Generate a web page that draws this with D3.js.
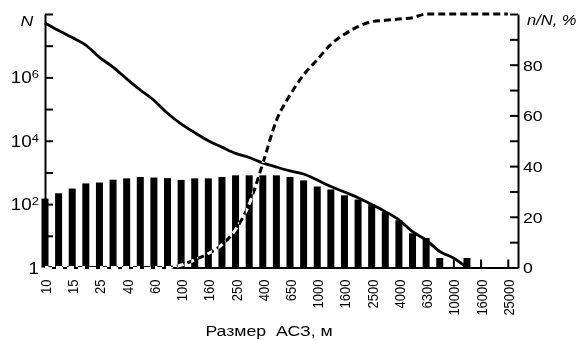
<!DOCTYPE html>
<html>
<head>
<meta charset="utf-8">
<script src="https://cdn.jsdelivr.net/npm/d3@7"></script>
<style>
    body { margin: 0; background: #fff; }
    svg { display: block; font-family: Arial, "Liberation Sans", sans-serif; }
</style>
</head>
<body>
<div id="chart"></div>
<script>
// size classes (labels sit on every second bar position)
const sizeLabels = ["10", "15", "25", "40", "60", "100", "160", "250", "400", "650",
    "1000", "1600", "2500", "4000", "6300", "10000", "16000", "25000"];

// number of objects per bin, one bar per half step
const barCounts = [150, 220, 310, 450, 480, 590, 650, 720, 690, 660,
    580, 650, 650, 720, 810, 810, 810, 810, 720, 560,
    360, 290, 190, 140, 98, 56, 31, 12, 8.5, 2, 0, 2];

// cumulative number N of objects larger than the size
const totalCounts = [5.2e7, 3.0e7, 1.8e7, 1.05e7, 4.3e6, 2.1e6, 9e5, 4e5, 1.9e5, 7.4e4,
    3.4e4, 1.8e4, 1e4, 6300, 4000, 2950, 2000, 1480, 1120, 890,
    575, 360, 240, 160, 98, 58, 32, 13.5, 7.4, 3.2, 2, 1];

// n/N, %
const sharePercent = [0, 0, 0, 0, 0, 0, 0, 0, 0, 0,
    1, 3, 5.5, 9, 15, 25, 41, 58, 68, 76,
    82, 88, 92, 95, 97, 97.5, 98, 98.5, 100, 100,
    100, 100, 100, 100, 100];

const width = 584, height = 340;
const plot = {left: 45, right: 518, top: 14, bottom: 267.5};
const stretch = 1.18; // lettering in the original is wider than Arial

const svg = d3.select("#chart").append("svg")
    .attr("width", width)
    .attr("height", height);

svg.append("rect")
    .attr("width", width)
    .attr("height", height)
    .attr("fill", "#fff");

// Scales
const x = d3.scaleLinear().domain([0, 34.75]).range([plot.left, plot.right]);
const y = d3.scaleLog().domain([1, 1e8]).range([plot.bottom, plot.top]);
const yPct = d3.scaleLinear().domain([0, 100]).range([plot.bottom, plot.top]);

// Bars
svg.append("g")
    .selectAll("rect")
    .data(barCounts.map((v, i) => ({i: i, v: v})).filter(d => d.v > 0))
    .join("rect")
    .attr("x", d => x(d.i) - 3.5)
    .attr("width", 7)
    .attr("y", d => y(d.v))
    .attr("height", d => y(1) - y(d.v))
    .attr("fill", "#000");

// Axes
function styleAxis(g) {
    g.selectAll("path.domain").attr("stroke", "#000").attr("stroke-width", 2);
    g.selectAll(".tick line").attr("stroke", "#000").attr("stroke-width", 2);
}

const xAxis = d3.axisBottom(x)
    .tickValues(sizeLabels.map((d, i) => i * 2))
    .tickFormat(d => sizeLabels[d / 2])
    .tickSize(-8)
    .tickSizeOuter(0);

const xAxisG = svg.append("g")
    .attr("transform", `translate(0,${plot.bottom})`)
    .call(xAxis)
    .call(styleAxis);

xAxisG.selectAll(".tick text")
    .attr("fill", "#000")
    .style("font-size", "13px")
    .attr("x", -12)
    .attr("y", 0)
    .attr("dy", "0.36em")
    .attr("text-anchor", "end")
    .attr("transform", `rotate(-90) scale(1,${stretch})`);

const yAxis = d3.axisLeft(y)
    .tickValues(d3.range(0, 9).map(e => Math.pow(10, e)))
    .tickFormat(() => "")
    .tickSize(-8)
    .tickSizeOuter(0);

const yAxisG = svg.append("g")
    .attr("transform", `translate(${plot.left},0)`)
    .call(yAxis)
    .call(styleAxis);

yAxisG.selectAll(".tick text").remove();
yAxisG.selectAll(".tick").each(function(d) {
    const e = Math.round(Math.log10(d));
    if (e % 2 !== 0 || e === 8) return;
    const t = d3.select(this).append("text")
        .attr("fill", "#000")
        .attr("text-anchor", "end")
        .attr("transform", `translate(-6,5.5) scale(${stretch},1)`)
        .style("font-size", "16px");
    if (e === 0) {
        t.text("1");
    } else {
        t.append("tspan").text("10");
        t.append("tspan").attr("dy", -5).style("font-size", "11px").text(e);
    }
});

const yAxisRight = d3.axisRight(yPct)
    .tickValues(d3.range(0, 101, 10))
    .tickFormat(d => (d % 20 === 0 && d < 100) ? d : "")
    .tickSize(-8)
    .tickSizeOuter(0);

const yRightG = svg.append("g")
    .attr("transform", `translate(${plot.right},0)`)
    .call(yAxisRight)
    .call(styleAxis);

yRightG.selectAll(".tick text")
    .attr("fill", "#000")
    .attr("x", 0)
    .attr("dy", "0.36em")
    .attr("transform", `translate(5,0) scale(${stretch},1)`)
    .style("font-size", "15px");

// Cumulative count line
const totalLine = d3.line()
    .x((d, i) => x(i))
    .y(d => y(d))
    .curve(d3.curveMonotoneX);

svg.append("path")
    .datum(totalCounts)
    .attr("fill", "none")
    .attr("stroke", "#000")
    .attr("stroke-width", 2.8)
    .attr("d", totalLine);

// Share line: white + difference blend so it turns white over the black bars
const shareLine = d3.line()
    .x((d, i) => x(i))
    .y(d => yPct(d))
    .curve(d3.curveMonotoneX);

svg.append("path")
    .datum(sharePercent)
    .attr("fill", "none")
    .attr("stroke", "#fff")
    .attr("stroke-width", 3)
    .attr("stroke-dasharray", "7,4")
    .style("mix-blend-mode", "difference")
    .attr("d", shareLine);

// Axis titles
svg.append("text")
    .attr("transform", `translate(27,26) scale(${stretch},1)`)
    .attr("text-anchor", "middle")
    .style("font-size", "15px")
    .style("font-style", "italic")
    .text("N");

svg.append("text")
    .attr("transform", `translate(527,25) scale(${stretch},1)`)
    .style("font-size", "14px")
    .style("font-style", "italic")
    .text("n/N, %");

svg.append("text")
    .attr("transform", `translate(269,336) scale(${stretch},1)`)
    .attr("text-anchor", "middle")
    .style("font-size", "15px")
    .style("white-space", "pre")
    .text("Размер  АСЗ, м");
</script>
</body>
</html>
